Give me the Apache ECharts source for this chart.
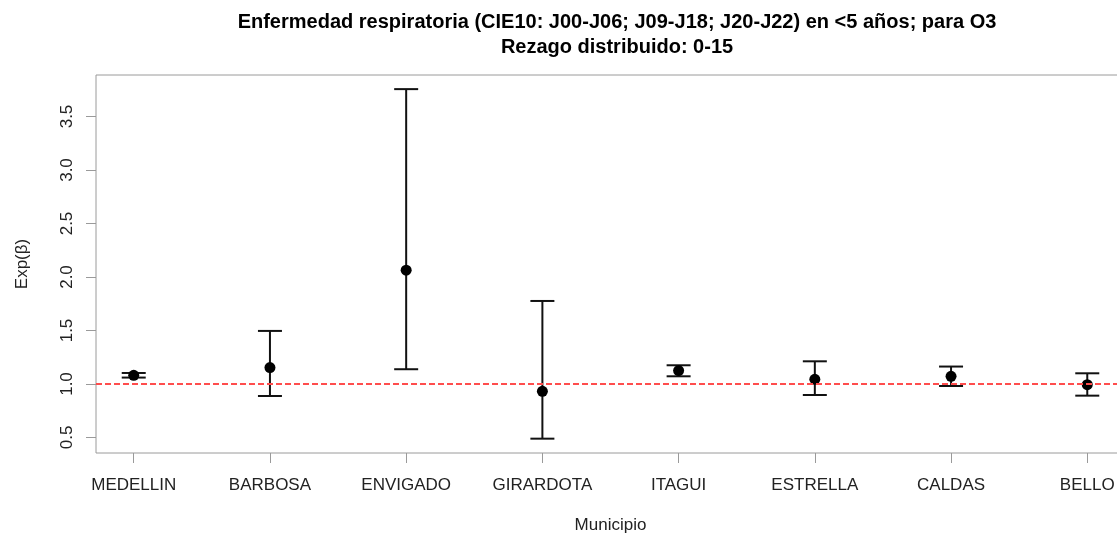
<!DOCTYPE html>
<html>
<head>
<meta charset="utf-8">
<script src="https://cdn.jsdelivr.net/npm/echarts@6/dist/echarts.min.js"></script>
<style>
html,body{margin:0;padding:0;background:#fff;}
#chart{width:1117px;height:535px;}
</style>
</head>
<body>
<div id="chart"></div>
<script>
const municipios = ['MEDELLIN','BARBOSA','ENVIGADO','GIRARDOTA','ITAGUI','ESTRELLA','CALDAS','BELLO'];
const estimate = [1.081, 1.153, 2.064, 0.932, 1.125, 1.044, 1.072, 0.994];
const lower    = [1.060, 0.888, 1.138, 0.489, 1.072, 0.897, 0.981, 0.891];
const upper    = [1.103, 1.496, 3.756, 1.776, 1.175, 1.212, 1.163, 1.100];
const yTicks = [0.5, 1.0, 1.5, 2.0, 2.5, 3.0, 3.5];
const xTicks = [1, 2, 3, 4, 5, 6, 7, 8];
const refValue = 1;

const FONT = 'Liberation Sans, Arial, sans-serif';
const chart = echarts.init(document.getElementById('chart'));

const pointData = municipios.map((m, i) => [i + 1, estimate[i]]);
const barData = municipios.map((m, i) => [i + 1, lower[i], upper[i]]);

chart.setOption({
  animation: false,
  backgroundColor: '#fff',
  title: {
    text: 'Enfermedad respiratoria (CIE10: J00-J06; J09-J18; J20-J22) en <5 años; para O3\nRezago distribuido: 0-15',
    left: 612,
    textAlign: 'center',
    top: 5,
    textStyle: { fontFamily: FONT, fontSize: 20, fontWeight: 'bold', color: '#000', lineHeight: 25 }
  },
  grid: {
    left: 96, top: 75, right: -8, bottom: 82,
    outerBoundsMode: 'none',
    containLabel: false,
    show: true, borderColor: '#9a9a9a', borderWidth: 1, backgroundColor: 'transparent'
  },
  xAxis: {
    type: 'value',
    min: 0.723, max: 8.277,
    name: 'Municipio',
    nameLocation: 'middle',
    nameGap: 64,
    nameTextStyle: { fontFamily: FONT, fontSize: 17, color: '#222' },
    axisLine: { show: false },
    splitLine: { show: false },
    axisTick: { show: true, customValues: xTicks, length: 10, lineStyle: { color: '#9a9a9a' } },
    axisLabel: {
      customValues: xTicks,
      margin: 24,
      fontFamily: FONT, fontSize: 17, color: '#222',
      formatter: v => municipios[Math.round(v) - 1] || ''
    }
  },
  yAxis: {
    type: 'value',
    min: 0.355, max: 3.888,
    name: 'Exp(β)',
    nameLocation: 'middle',
    nameGap: 65,
    nameRotate: 90,
    nameTextStyle: { fontFamily: FONT, fontSize: 17, color: '#222' },
    axisLine: { show: false },
    splitLine: { show: false },
    axisTick: { show: true, customValues: yTicks, length: 10, lineStyle: { color: '#9a9a9a' } },
    axisLabel: {
      customValues: yTicks,
      rotate: 90,
      margin: 20,
      fontFamily: FONT, fontSize: 17, color: '#222',
      formatter: v => v.toFixed(1)
    }
  },
  series: [
    {
      type: 'custom',
      data: barData,
      z: 3,
      renderItem: function (params, api) {
        const x = api.value(0);
        const lo = api.coord([x, api.value(1)]);
        const hi = api.coord([x, api.value(2)]);
        const hw = 12;
        const style = { stroke: '#111', lineWidth: 2 };
        return {
          type: 'group',
          children: [
            { type: 'line', shape: { x1: lo[0], y1: lo[1], x2: hi[0], y2: hi[1] }, style },
            { type: 'line', shape: { x1: lo[0] - hw, y1: lo[1], x2: lo[0] + hw, y2: lo[1] }, style },
            { type: 'line', shape: { x1: hi[0] - hw, y1: hi[1], x2: hi[0] + hw, y2: hi[1] }, style }
          ]
        };
      }
    },
    {
      type: 'scatter',
      data: pointData,
      symbol: 'circle',
      symbolSize: 11,
      z: 4,
      itemStyle: { color: '#000', opacity: 1 }
    },
    {
      type: 'line',
      data: [],
      z: 6,
      markLine: {
        silent: true,
        symbol: ['none', 'none'],
        label: { show: false },
        lineStyle: { color: '#ff4d4d', type: [6, 3], width: 2, opacity: 1 },
        data: [{ yAxis: refValue }]
      }
    }
  ]
});
</script>
</body>
</html>
